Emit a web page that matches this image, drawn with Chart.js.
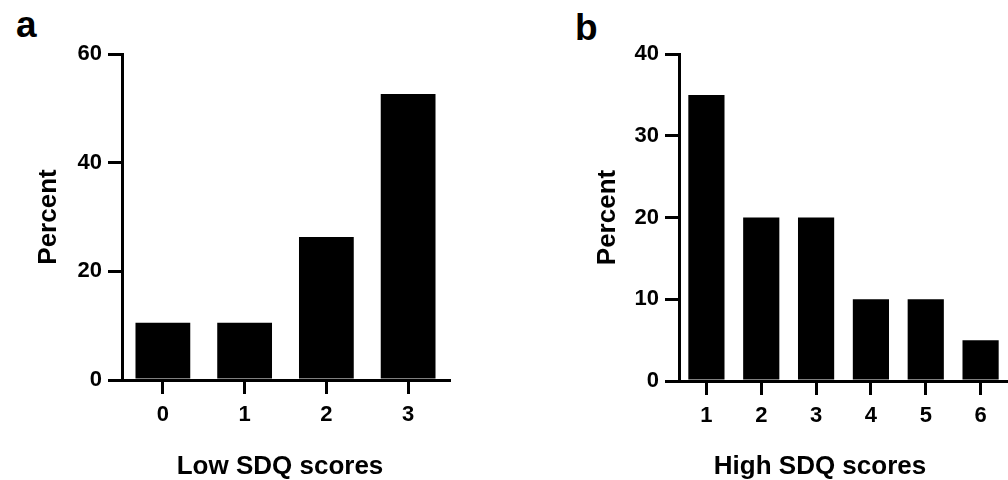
<!DOCTYPE html>
<html>
<head>
<meta charset="utf-8">
<script src="https://cdn.jsdelivr.net/npm/chart.js@4"></script>
<style>
  html, body { margin: 0; padding: 0; background: #fff; }
  body { width: 1008px; height: 480px; position: relative; overflow: hidden; font-family: "Liberation Sans", Arial, Helvetica, sans-serif; }
  .panel { position: absolute; top: 0; height: 480px; }
  .lbl { position: absolute; font-weight: bold; font-size: 37px; line-height: 1; color: #000; }
</style>
</head>
<body>
<div class="lbl" style="left:16px; top:6px;">a</div>
<div class="lbl" style="left:575px; top:9px;">b</div>
<div class="panel" style="left:0; width:500px;"><canvas id="c1" width="500" height="480"></canvas></div>
<div class="panel" style="left:500px; width:508px;"><canvas id="c2" width="508" height="480"></canvas></div>
<script>
// Panel a
const lowCategories = ['0', '1', '2', '3'];
const lowPercent = [10.53, 10.53, 26.32, 52.63];
const lowYTicks = [0, 20, 40, 60];
const lowXTitle = 'Low SDQ scores';

// Panel b
const highCategories = ['1', '2', '3', '4', '5', '6'];
const highPercent = [35, 20, 20, 10, 10, 5];
const highYTicks = [0, 10, 20, 30, 40];
const highXTitle = 'High SDQ scores';

const yTitle = 'Percent';
const FONT = '"Liberation Sans", Arial, Helvetica, sans-serif';

function makeChart(id, cats, vals, yTicks, xTitle, g) {
  const yMax = yTicks[yTicks.length - 1];
  const step = yTicks[1] - yTicks[0];
  const scales = {
    x: {
      offset: true,
      grid: { display: true, offset: false, drawOnChartArea: false, tickLength: 14, lineWidth: 3, color: '#000' },
      border: { display: true, color: '#000', width: 3 },
      ticks: { color: '#000', padding: 8, font: { family: FONT, size: 22, weight: 'bold' } },
      afterFit: s => { s.height = g.xH; }
    },
    y: {
      position: 'left',
      min: 0, max: yMax,
      grid: { display: true, drawOnChartArea: false, tickLength: 14, lineWidth: 3, color: '#000' },
      border: { display: true, color: '#000', width: 3 },
      ticks: { color: '#000', padding: 6, stepSize: step, font: { family: FONT, size: 22, weight: 'bold' } },
      title: {
        display: true, text: yTitle, color: '#000',
        font: { family: FONT, size: 26, weight: 'bold', lineHeight: 1 },
        padding: { top: g.yTitlePad, bottom: 0 }
      },
      afterFit: s => { s.width = g.yW; }
    }
  };
  if (g.rightW > 0) {
    scales.yR = {
      position: 'right',
      display: true,
      grid: { display: false },
      border: { display: false },
      ticks: { display: false },
      afterFit: s => { s.width = g.rightW; }
    };
  }
  return new Chart(document.getElementById(id), {
    type: 'bar',
    data: {
      labels: cats,
      datasets: [{
        data: vals,
        yAxisID: 'y',
        backgroundColor: '#000',
        borderWidth: 0,
        barPercentage: g.barPct,
        categoryPercentage: 1
      }]
    },
    options: {
      responsive: false,
      animation: false,
      events: [],
      layout: { padding: { left: g.padL, right: g.padR, top: 54, bottom: 0 } },
      plugins: {
        legend: { display: false },
        tooltip: { enabled: false },
        title: {
          display: true,
          position: 'bottom',
          text: xTitle,
          color: '#000',
          font: { family: FONT, size: 26, weight: 'bold', lineHeight: 1 },
          padding: { top: 0, bottom: 0 }
        }
      },
      scales: scales
    }
  });
}

makeChart('c1', lowCategories, lowPercent, lowYTicks, lowXTitle,
  { padL: 60, padR: 0, yW: 62, rightW: 51, xH: 74, yTitlePad: -24, barPct: 0.67 });
makeChart('c2', highCategories, highPercent, highYTicks, highXTitle,
  { padL: 132, padR: 0, yW: 47, rightW: 0, xH: 73, yTitlePad: -37.5, barPct: 0.66 });
</script>
</body>
</html>
